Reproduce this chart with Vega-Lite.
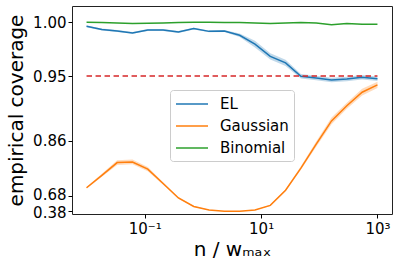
{
  "$schema": "https://vega.github.io/schema/vega-lite/v6.json",
  "width": 320,
  "height": 208,
  "autosize": {"type": "none"},
  "padding": {"left": 72, "top": 6, "right": 7, "bottom": 54},
  "background": "white",
  "config": {
    "view": {"stroke": "#222222", "strokeWidth": 1},
    "font": "DejaVu Sans",
    "axis": {"domain": false, "grid": false, "tickColor": "black", "labelColor": "black", "titleColor": "black", "labelFont": "DejaVu Sans", "titleFont": "DejaVu Sans", "titleFontWeight": "normal", "labelFontSize": 15, "tickSize": 4, "tickWidth": 1},
    "legend": {"orient": "none", "legendX": 98, "legendY": 84, "symbolType": "M-1,0H3", "symbolSize": 256, "symbolStrokeWidth": 1.5, "labelFontSize": 15, "labelFont": "DejaVu Sans", "labelColor": "black", "labelOffset": 27, "padding": 5, "rowPadding": 5, "strokeColor": "#cccccc", "cornerRadius": 3, "fillColor": "rgba(255,255,255,0.8)", "symbolOpacity": 1}
  },
  "datasets": {
    "cov": [
      {"n": 0.01, "series": "EL", "cov": 0.9967, "lo": 0.9959, "hi": 0.9975},
      {"n": 0.01833, "series": "EL", "cov": 0.9941, "lo": 0.9933, "hi": 0.9949},
      {"n": 0.033598, "series": "EL", "cov": 0.9928, "lo": 0.9920, "hi": 0.9936},
      {"n": 0.061585, "series": "EL", "cov": 0.9912, "lo": 0.9904, "hi": 0.9920},
      {"n": 0.11288, "series": "EL", "cov": 0.9936, "lo": 0.9928, "hi": 0.9944},
      {"n": 0.20691, "series": "EL", "cov": 0.9936, "lo": 0.9928, "hi": 0.9944},
      {"n": 0.37927, "series": "EL", "cov": 0.9920, "lo": 0.9912, "hi": 0.9928},
      {"n": 0.69519, "series": "EL", "cov": 0.9948, "lo": 0.9940, "hi": 0.9956},
      {"n": 1.2743, "series": "EL", "cov": 0.9925, "lo": 0.9917, "hi": 0.9933},
      {"n": 2.3357, "series": "EL", "cov": 0.9928, "lo": 0.9920, "hi": 0.9936},
      {"n": 4.2813, "series": "EL", "cov": 0.9892, "lo": 0.9877, "hi": 0.9907},
      {"n": 7.8476, "series": "EL", "cov": 0.9813, "lo": 0.9783, "hi": 0.9843},
      {"n": 14.384, "series": "EL", "cov": 0.9700, "lo": 0.9670, "hi": 0.9730},
      {"n": 26.367, "series": "EL", "cov": 0.9636, "lo": 0.9606, "hi": 0.9666},
      {"n": 48.329, "series": "EL", "cov": 0.9497, "lo": 0.9472, "hi": 0.9522},
      {"n": 88.587, "series": "EL", "cov": 0.9478, "lo": 0.9453, "hi": 0.9503},
      {"n": 162.38, "series": "EL", "cov": 0.9456, "lo": 0.9431, "hi": 0.9481},
      {"n": 297.64, "series": "EL", "cov": 0.9467, "lo": 0.9442, "hi": 0.9492},
      {"n": 545.56, "series": "EL", "cov": 0.9486, "lo": 0.9461, "hi": 0.9511},
      {"n": 1000, "series": "EL", "cov": 0.9470, "lo": 0.9445, "hi": 0.9495},
      {"n": 0.01, "series": "Gaussian", "cov": 0.7275, "lo": 0.7235, "hi": 0.7315},
      {"n": 0.01833, "series": "Gaussian", "cov": 0.7759, "lo": 0.7709, "hi": 0.7809},
      {"n": 0.033598, "series": "Gaussian", "cov": 0.8126, "lo": 0.8066, "hi": 0.8186},
      {"n": 0.061585, "series": "Gaussian", "cov": 0.8142, "lo": 0.8082, "hi": 0.8202},
      {"n": 0.11288, "series": "Gaussian", "cov": 0.7948, "lo": 0.7888, "hi": 0.8008},
      {"n": 0.20691, "series": "Gaussian", "cov": 0.7460, "lo": 0.7410, "hi": 0.7510},
      {"n": 0.37927, "series": "Gaussian", "cov": 0.6683, "lo": 0.6623, "hi": 0.6743},
      {"n": 0.69519, "series": "Gaussian", "cov": 0.5768, "lo": 0.5668, "hi": 0.5868},
      {"n": 1.2743, "series": "Gaussian", "cov": 0.4900, "lo": 0.4800, "hi": 0.5000},
      {"n": 2.3357, "series": "Gaussian", "cov": 0.4125, "lo": 0.4025, "hi": 0.4225},
      {"n": 4.2813, "series": "Gaussian", "cov": 0.3925, "lo": 0.3825, "hi": 0.4025},
      {"n": 7.8476, "series": "Gaussian", "cov": 0.4830, "lo": 0.4730, "hi": 0.4930},
      {"n": 14.384, "series": "Gaussian", "cov": 0.5934, "lo": 0.5834, "hi": 0.6034},
      {"n": 26.367, "series": "Gaussian", "cov": 0.7156, "lo": 0.7106, "hi": 0.7206},
      {"n": 48.329, "series": "Gaussian", "cov": 0.7978, "lo": 0.7928, "hi": 0.8028},
      {"n": 88.587, "series": "Gaussian", "cov": 0.8533, "lo": 0.8483, "hi": 0.8583},
      {"n": 162.38, "series": "Gaussian", "cov": 0.8931, "lo": 0.8881, "hi": 0.8981},
      {"n": 297.64, "series": "Gaussian", "cov": 0.9145, "lo": 0.9105, "hi": 0.9185},
      {"n": 545.56, "series": "Gaussian", "cov": 0.9316, "lo": 0.9276, "hi": 0.9356},
      {"n": 1000, "series": "Gaussian", "cov": 0.9402, "lo": 0.9367, "hi": 0.9437},
      {"n": 0.01, "series": "Binomial", "cov": 1.0, "lo": 1.0, "hi": 1.0},
      {"n": 0.01833, "series": "Binomial", "cov": 0.9998, "lo": 0.9998, "hi": 0.9998},
      {"n": 0.033598, "series": "Binomial", "cov": 0.9995, "lo": 0.9995, "hi": 0.9995},
      {"n": 0.061585, "series": "Binomial", "cov": 0.999, "lo": 0.999, "hi": 0.999},
      {"n": 0.11288, "series": "Binomial", "cov": 0.9993, "lo": 0.9993, "hi": 0.9993},
      {"n": 0.20691, "series": "Binomial", "cov": 0.9995, "lo": 0.9995, "hi": 0.9995},
      {"n": 0.37927, "series": "Binomial", "cov": 0.9998, "lo": 0.9998, "hi": 0.9998},
      {"n": 0.69519, "series": "Binomial", "cov": 1.0, "lo": 1.0, "hi": 1.0},
      {"n": 1.2743, "series": "Binomial", "cov": 1.0, "lo": 1.0, "hi": 1.0},
      {"n": 2.3357, "series": "Binomial", "cov": 0.9998, "lo": 0.9998, "hi": 0.9998},
      {"n": 4.2813, "series": "Binomial", "cov": 0.9998, "lo": 0.9998, "hi": 0.9998},
      {"n": 7.8476, "series": "Binomial", "cov": 0.9995, "lo": 0.9995, "hi": 0.9995},
      {"n": 14.384, "series": "Binomial", "cov": 0.999, "lo": 0.999, "hi": 0.999},
      {"n": 26.367, "series": "Binomial", "cov": 0.9995, "lo": 0.9995, "hi": 0.9995},
      {"n": 48.329, "series": "Binomial", "cov": 0.9998, "lo": 0.9998, "hi": 0.9998},
      {"n": 88.587, "series": "Binomial", "cov": 0.9995, "lo": 0.9995, "hi": 0.9995},
      {"n": 162.38, "series": "Binomial", "cov": 0.998, "lo": 0.998, "hi": 0.998},
      {"n": 297.64, "series": "Binomial", "cov": 0.999, "lo": 0.999, "hi": 0.999},
      {"n": 545.56, "series": "Binomial", "cov": 0.9985, "lo": 0.9985, "hi": 0.9985},
      {"n": 1000, "series": "Binomial", "cov": 0.9985, "lo": 0.9985, "hi": 0.9985}
    ],
    "target": [{"n0": 0.01, "n1": 1000, "level": 0.95}]
  },
  "layer": [
    {
      "data": {"name": "cov"},
      "transform": [{"filter": "datum.series !== 'Binomial'"}],
      "mark": {"type": "area", "opacity": 0.28, "interpolate": "linear"},
      "encoding": {
        "x": {"field": "n", "type": "quantitative"},
        "y": {"field": "lo", "type": "quantitative"},
        "y2": {"field": "hi"},
        "color": {"field": "series", "type": "nominal"}
      }
    },
    {
      "data": {"name": "cov"},
      "mark": {"type": "line", "strokeWidth": 1.5},
      "encoding": {
        "x": {
          "field": "n", "type": "quantitative",
          "scale": {"type": "log", "domain": [0.0056234, 1778.28], "nice": false},
          "axis": {"values": [0.1, 10, 1000], "labelExpr": "datum.value < 1 ? '10⁻¹' : (datum.value < 100 ? '10¹' : '10³')", "title": "n / wₘₐₓ", "titleFontSize": 20, "labelPadding": 3, "titlePadding": 3}
        },
        "y": {
          "field": "cov", "type": "quantitative",
          "scale": {"type": "pow", "exponent": 6.5, "domain": [-0.5059, 1.0128], "nice": false, "zero": false},
          "axis": {"values": [0.38, 0.68, 0.86, 0.95, 1.0], "format": ".2f", "title": "empirical coverage", "titleFontSize": 20, "labelPadding": 2, "titlePadding": 6,
            "labelOffset": {"condition": [{"test": "datum.value < 0.5", "value": 1}, {"test": "datum.value < 0.7", "value": -1.5}], "value": 0}}
        },
        "color": {
          "field": "series", "type": "nominal",
          "scale": {"domain": ["EL", "Gaussian", "Binomial"], "range": ["#1f77b4", "#ff7f0e", "#2ca02c"]},
          "legend": {"title": null}
        }
      }
    },
    {
      "data": {"name": "target"},
      "mark": {"type": "rule", "color": "#d62728", "strokeWidth": 1.5, "strokeDash": [5.5, 3.5]},
      "encoding": {
        "x": {"field": "n0", "type": "quantitative"},
        "x2": {"field": "n1"},
        "y": {"field": "level", "type": "quantitative"}
      }
    }
  ]
}
